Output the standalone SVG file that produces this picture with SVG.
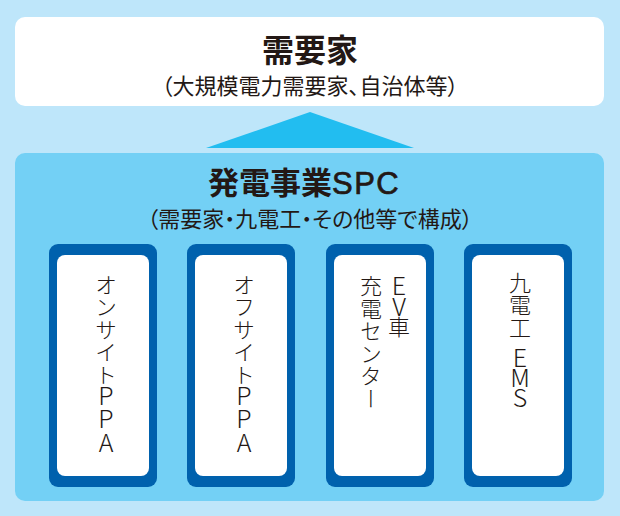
<svg xmlns="http://www.w3.org/2000/svg" width="620" height="516" viewBox="0 0 620 516">
<style>
text{font-family:"Noto Sans CJK JP","Noto Sans",sans-serif;fill:#231815}
.t{font-weight:700}
.s{font-size:22px;text-anchor:middle;font-feature-settings:"palt"}
.v{font-size:22px;font-weight:300;writing-mode:vertical-rl;text-orientation:upright;letter-spacing:0.5px}
.lat{font-size:25px}
.card{fill:#0061ad}
.inner{fill:#ffffff}
</style>
<rect width="620" height="516" fill="#bee6fa"/>
<g id="customer">
<rect x="15" y="17" width="589" height="89" rx="10" fill="#ffffff"/>
<text class="t" x="310" y="62" font-size="32" text-anchor="middle">需要家</text>
<text class="s" x="310" y="94">（大規模電力需要家、自治体等）</text>
</g>
<g id="connectors">
<polygon points="310,112 206,148 414,148" fill="#22bdf0"/>
</g>
<g id="spc">
<rect x="15" y="153" width="589" height="348" rx="10" fill="#73d0f5"/>
<text class="t" x="208" y="194" font-size="31">発電事業<tspan font-family="Liberation Sans, Arial, sans-serif" font-weight="400" letter-spacing="1.5" stroke="#231815" stroke-width="0.7">SPC</tspan></text>
<text class="s" x="310" y="227">（需要家・九電工・その他等で構成）</text>
</g>
<g id="onsite">
<rect class="card" x="49" y="244" width="108" height="243" rx="9"/>
<rect class="inner" x="57" y="255" width="92" height="221" rx="8"/>
<text class="v" x="106" y="273.5">オンサイト<tspan class="lat" y="382" letter-spacing="-1.5">PPA</tspan></text>
</g>
<g id="offsite">
<rect class="card" x="187" y="244" width="108" height="243" rx="9"/>
<rect class="inner" x="195" y="255" width="92" height="221" rx="8"/>
<text class="v" x="244" y="273.5">オフサイト<tspan class="lat" y="382" letter-spacing="-1.5">PPA</tspan></text>
</g>
<g id="ev">
<rect class="card" x="326" y="244" width="108" height="243" rx="9"/>
<rect class="inner" x="334" y="255" width="92" height="221" rx="8"/>
<text class="v" x="399" y="273.3"><tspan class="lat" letter-spacing="-4">EV</tspan><tspan y="315.3">車</tspan></text>
<text class="v" x="371" y="275" letter-spacing="-0.5">充電センター</text>
</g>
<g id="ems">
<rect class="card" x="464" y="244" width="108" height="243" rx="9"/>
<rect class="inner" x="472" y="255" width="92" height="221" rx="8"/>
<text class="v" x="520" y="271.5">九電工<tspan class="lat" y="344" letter-spacing="-5">EMS</tspan></text>
</g>
</svg>
